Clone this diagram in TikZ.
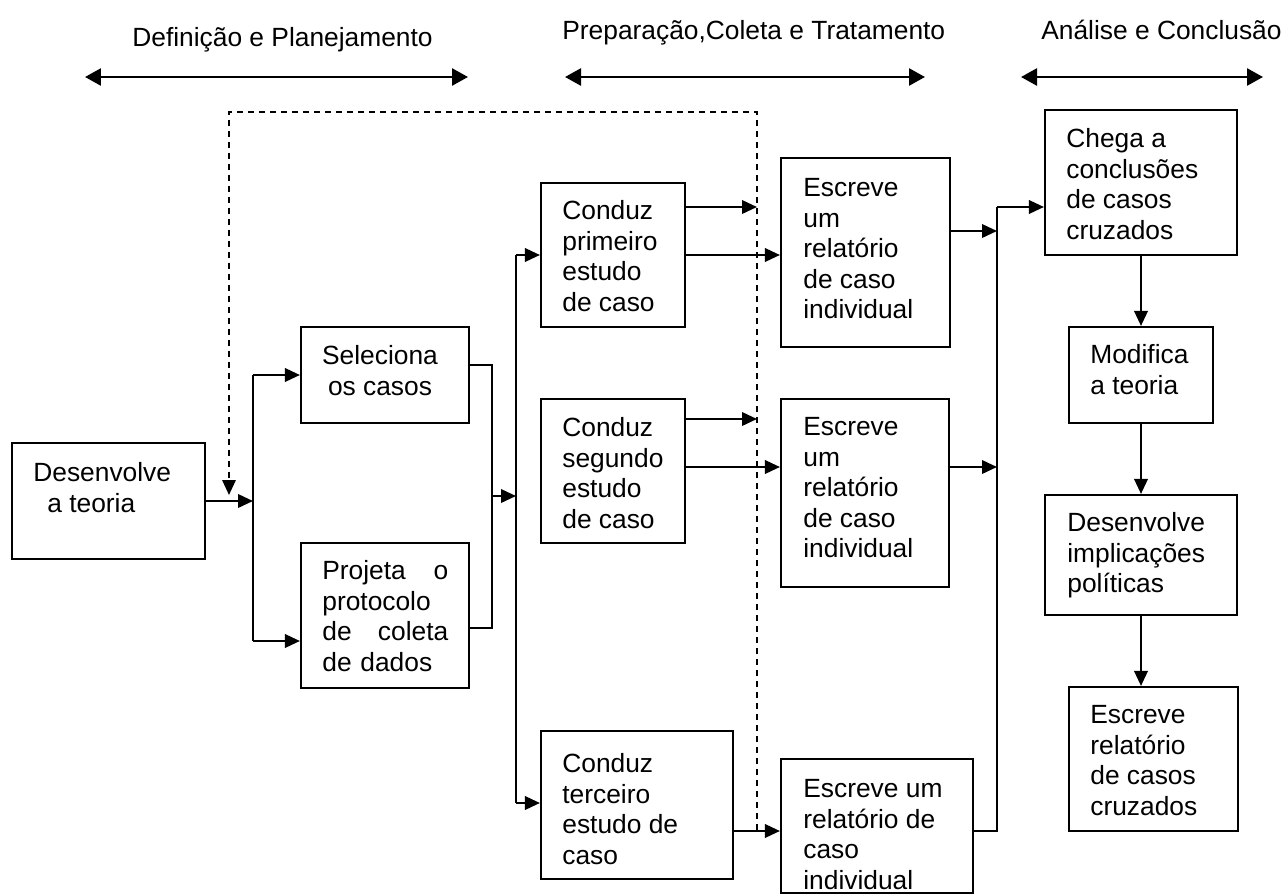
\documentclass[tikz,border=0pt]{standalone}
\usepackage{fontspec}
\setmainfont{Liberation Sans}
\usetikzlibrary{arrows.meta,fit}

\tikzset{
  caixa/.style={draw, line width=1.2pt, inner sep=0pt},
  txt/.style={anchor=north west, inner sep=0pt, align=left, font=\fontsize{15}{17.4}\selectfont},
  fio/.style={line width=1.2pt},
  seta/.style={line width=1.2pt, ->},
  dupla/.style={line width=1.5pt, {Triangle[length=0.32cm,width=0.34cm]}-{Triangle[length=0.32cm,width=0.34cm]}},
  tracej/.style={line width=0.9pt, dash pattern=on 0.13cm off 0.09cm}
}

\begin{document}
\begin{tikzpicture}[x=0.02cm, y=-0.02cm, >={Triangle[length=0.3cm,width=0.27cm]}]
    \useasboundingbox (0,0) rectangle (1286,896);

    % Etapas
    \node[txt, anchor=base west] (et1) at (132,46) {Definição e Planejamento};
    \node[txt, anchor=base west] (et2) at (562,39) {Preparação,Coleta e Tratamento};
    \node[txt, anchor=base west] (et3) at (1041,39) {Análise e Conclusão};
    \coordinate (a1) at (85,77);   \coordinate (b1) at (468,77);
    \coordinate (a2) at (565,77);  \coordinate (b2) at (925,77);
    \coordinate (a3) at (1021,77); \coordinate (b3) at (1263,77);
    \draw[dupla] (a1) -- (b1);
    \draw[dupla] (a2) -- (b2);
    \draw[dupla] (a3) -- (b3);

    % Caixas
    \node[caixa, fit={(12,443) (205,559)}] (teoria) {};
    \node[caixa, fit={(301,327) (469,423)}] (selec) {};
    \node[caixa, fit={(301,543) (469,688)}] (proj) {};
    \node[caixa, fit={(541,183) (685,327)}] (cond1) {};
    \node[caixa, fit={(541,399) (685,543)}] (cond2) {};
    \node[caixa, fit={(541,731) (733,879)}] (cond3) {};
    \node[caixa, fit={(781,158) (950,347)}] (escr1) {};
    \node[caixa, fit={(781,399) (949,587)}] (escr2) {};
    \node[caixa, fit={(781,759) (973,893)}] (escr3) {};
    \node[caixa, fit={(1045,110) (1237,255)}] (concl) {};
    \node[caixa, fit={(1069,327) (1213,423)}] (modif) {};
    \node[caixa, fit={(1045,495) (1237,615)}] (impl) {};
    \node[caixa, fit={(1069,687) (1238,831)}] (relat) {};

    % Textos
    \node[txt] (tteoria) at (33,462) {Desenvolve\\\hspace*{0.28cm}a teoria};
    \node[txt, anchor=north, align=center] (tselec) at (380,345) {Seleciona\\os casos};
    \node[txt, text width=2.52cm] (tproj) at (322,560) {Projeta\hfill o\\protocolo\\de\hfill coleta\\de dados};
    \node[txt] (tcond1) at (562,200) {Conduz\\primeiro\\estudo\\de caso};
    \node[txt] (tcond2) at (562,417) {Conduz\\segundo\\estudo\\de caso};
    \node[txt] (tcond3) at (562,753) {Conduz\\terceiro\\estudo de\\caso};
    \node[txt] (tescr1) at (803,178) {Escreve\\um\\relatório\\de caso\\individual};
    \node[txt] (tescr2) at (803,417) {Escreve\\um\\relatório\\de caso\\individual};
    \node[txt] (tescr3) at (803,779) {Escreve um\\relatório de\\caso\\individual};
    \node[txt] (tconcl) at (1066,128) {Chega a\\conclusões\\de casos\\cruzados};
    \node[txt] (tmodif) at (1090,344) {Modifica\\a teoria};
    \node[txt] (timpl) at (1067,512) {Desenvolve\\implicações\\políticas};
    \node[txt] (trelat) at (1090,705) {Escreve\\relatório\\de casos\\cruzados};

    % Pontos de ligação
    \coordinate (bAt) at (253,375); \coordinate (bAb) at (253,641);
    \coordinate (bBt) at (492,365); \coordinate (bBb) at (492,628);
    \coordinate (bCt) at (516,255); \coordinate (bCm) at (516,496); \coordinate (bCb) at (516,803);
    \coordinate (bDt) at (997,207); \coordinate (e1) at (997,231);
    \coordinate (e2) at (997,467);  \coordinate (bDb) at (997,831);
    \coordinate (c1) at (757,207);  \coordinate (c2) at (757,419);
    \coordinate (topo) at (0,112);
    \coordinate (dA) at (229,495);  \coordinate (dB) at (757,830);

    % Definição e planejamento
    \draw[seta] (teoria.east) -- (teoria.east -| bAt);
    \draw[fio] (bAt) -- (bAb);
    \draw[seta] (bAt) -- (selec.west);
    \draw[seta] (bAb) -- (bAb -| proj.west);
    \draw[fio] (selec.east |- bBt) -- (bBt) -- (bBb) -- (proj.east |- bBb);
    \draw[seta] (bBb |- bCm) -- (bCm);

    % Casos
    \draw[fio] (bCt) -- (bCb);
    \draw[seta] (bCt) -- (cond1.west);
    \draw[seta] (bCb) -- (bCb -| cond3.west);
    \draw[seta] (cond1.east |- c1) -- (c1);
    \draw[seta] (cond1.east) -- (cond1.east -| escr1.west);
    \draw[seta] (cond2.east |- c2) -- (c2);
    \draw[seta] (cond2.east |- e2) -- (escr2.west |- e2);
    \draw[seta] (cond3.east |- bDb) -- (escr3.west |- bDb);

    % Relatorios
    \draw[seta] (escr1.east |- e1) -- (e1);
    \draw[seta] (escr2.east |- e2) -- (e2);
    \draw[fio] (escr3.east |- bDb) -- (bDb) -- (bDt);
    \draw[seta] (bDt) -- (bDt -| concl.west);

    % Analise
    \draw[seta] (concl.south) -- (modif.north);
    \draw[seta] (modif.south) -- (impl.north);
    \draw[seta] (impl.south) -- (impl.south |- relat.north);

    % Retorno tracejado
    \draw[tracej, ->] (dB) -- (dB |- topo) -| (dA);
\end{tikzpicture}
\end{document}
